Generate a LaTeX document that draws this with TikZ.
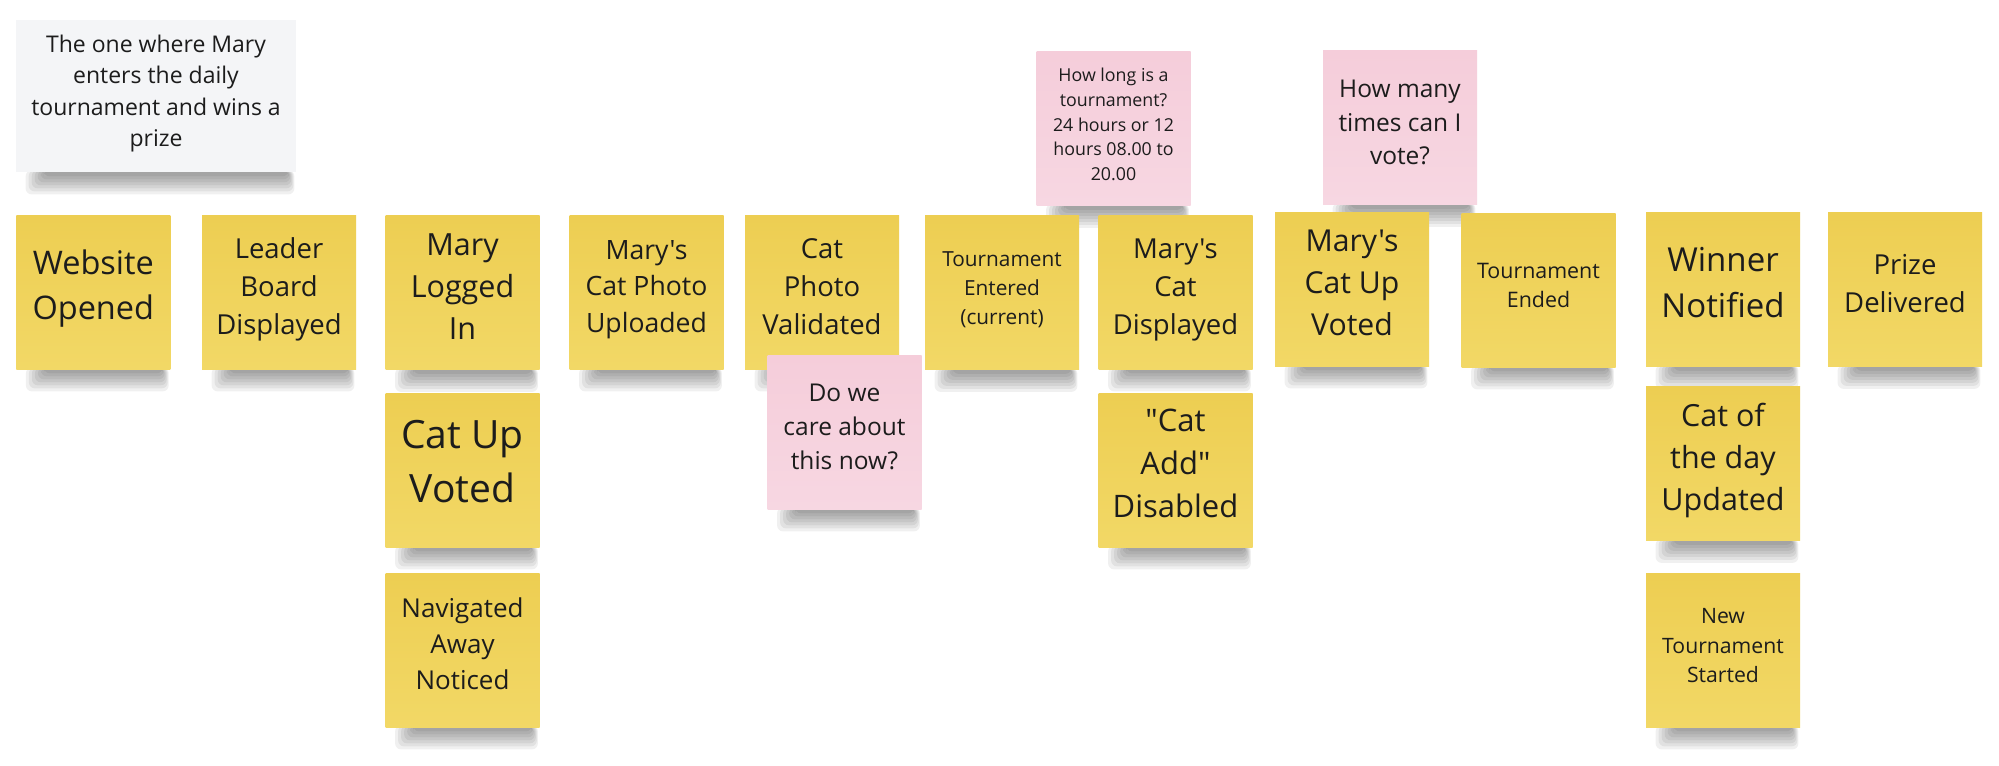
\documentclass[tikz,border=0pt]{standalone}
\usepackage{fontspec}
\setmainfont{Open Sans}[Ligatures=TeXOff]
\usetikzlibrary{calc}
\pgfdeclarelayer{background}
\pgfsetlayers{background,main}
\definecolor{ytop}{RGB}{237,206,82}
\definecolor{ybot}{RGB}{242,216,102}
\definecolor{ptop}{RGB}{245,205,218}
\definecolor{pbot}{RGB}{247,215,226}
\definecolor{greyfill}{RGB}{244,245,247}
\definecolor{ink}{RGB}{28,28,28}
\newcommand\Ta{\rule{0pt}{0.8em}}
\newcommand\Tb{\rule[-0.5em]{0pt}{0pt}}
\newcommand\fsz[2]{\fontsize{#1}{#2}\selectfont}
\newcommand\notesh[1]{%
  \foreach \i in {0,...,6}{%
    \fill[black,opacity=0.06,rounded corners=3pt]
      ($(#1.south west)+(28-3*\i,-2)$) rectangle ($(#1.south east)+(-8+\i,4+3*\i)$);}}
\tikzset{
  note/.style={rectangle, inner sep=0pt, minimum width=77pt, minimum height=77pt, align=center, text=ink},
  ynote/.style={note, top color=ytop, bottom color=ybot},
  pnote/.style={note, top color=ptop, bottom color=pbot},
  greynote/.style={note, fill=greyfill, minimum width=140pt, minimum height=76pt}
}
\begin{document}
\begin{tikzpicture}[x=0.5pt,y=-0.5pt]
\useasboundingbox (0,0) rectangle (1999,766);
\begin{pgfonlayer}{background}
\fill[white] (0,0) rectangle (1999,766);
\end{pgfonlayer}

\node[greynote, font=\fsz{11.5pt}{15.8pt}] (story) at (156,96) {\Ta The one where Mary\\enters the daily\\tournament and wins a\\prize\Tb};

\node[ynote, font=\fsz{16.25pt}{22.5pt}] (web) at (93.3,292) {\Ta Website\\Opened\Tb};
\node[ynote, font=\fsz{13.75pt}{19pt}] (lead) at (279,292) {\Ta Leader\\Board\\Displayed\Tb};
\node[ynote, font=\fsz{15.25pt}{21pt}] (login) at (462.5,292.5) {\Ta Mary\\Logged\\In\Tb};
\node[ynote, font=\fsz{13.3pt}{18.35pt}] (upload) at (646.5,292) {\Ta Mary's\\Cat Photo\\Uploaded\Tb};
\node[ynote, font=\fsz{13.75pt}{19pt}] (valid) at (822,292) {\Ta Cat\\Photo\\Validated\Tb};
\node[ynote, font=\fsz{10.4pt}{14.35pt}] (entered) at (1002,292.5) {\Ta Tournament\\Entered\\(current)\Tb};
\node[ynote, font=\fsz{13.75pt}{19pt}] (disp) at (1175.5,292) {\Ta Mary's\\Cat\\Displayed\Tb};
\node[ynote, font=\fsz{15.1pt}{20.85pt}] (upv) at (1352,289) {\Ta Mary's\\Cat Up\\Voted\Tb};
\node[ynote, font=\fsz{10.7pt}{14.75pt}] (ended) at (1538.5,290) {\Ta Tournament\\Ended\Tb};
\node[ynote, font=\fsz{16.5pt}{23pt}] (winner) at (1723,289.5) {\Ta Winner\\Notified\Tb};
\node[ynote, font=\fsz{13.75pt}{19pt}] (prize) at (1905,289.5) {\Ta Prize\\Delivered\Tb};

\node[ynote, font=\fsz{19.5pt}{27pt}] (catup) at (462.5,470) {\Ta Cat Up\\Voted\Tb};
\node[ynote, font=\fsz{15.5pt}{21.4pt}] (catadd) at (1175.5,470) {\Ta "Cat\\Add"\\Disabled\Tb};
\node[ynote, font=\fsz{15.25pt}{21pt}] (cotd) at (1723,463.5) {\Ta Cat of\\the day\\Updated\Tb};
\node[ynote, font=\fsz{13pt}{18pt}] (nav) at (462.5,650) {\Ta Navigated\\Away\\Noticed\Tb};
\node[ynote, font=\fsz{10.6pt}{14.65pt}] (newt) at (1723,650) {\Ta New\\Tournament\\Started\Tb};

\node[pnote, font=\fsz{8.9pt}{12.3pt}] (howlong) at (1113.5,128.5) {\Ta How long is a\\tournament?\\24 hours or 12\\hours 08.00 to\\20.00\Tb};
\node[pnote, font=\fsz{12.25pt}{16.9pt}] (howmany) at (1400,127.5) {\Ta How many\\times can I\\vote?\Tb};
\node[pnote, font=\fsz{12.25pt}{16.9pt}] (care) at (844.5,432) {\Ta Do we\\care about\\this now?\Tb};

\begin{pgfonlayer}{background}
\foreach \n in {story,web,lead,login,upload,valid,entered,disp,upv,ended,winner,prize,catup,catadd,cotd,nav,newt,howlong,howmany,care}{\notesh{\n}}
\end{pgfonlayer}
\end{tikzpicture}
\end{document}
